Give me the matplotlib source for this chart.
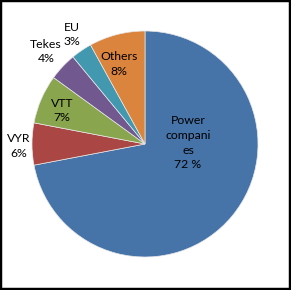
import matplotlib
matplotlib.use('Agg')
import matplotlib.pyplot as plt
from matplotlib.patches import Rectangle

# funding shares (%), clockwise from 12 o'clock
sources = ['Power companies', 'VYR', 'VTT', 'Tekes', 'EU', 'Others']
shares = [72, 6, 7, 4, 3, 8]
label_texts = ['Power\ncompani\nes\n72 %', 'VYR\n6%', 'VTT\n7%',
               'Tekes\n4%', 'EU\n3%', 'Others\n8%']

colors = ['#4674A8', '#AA4643', '#89A54E', '#71588F', '#4198AF', '#DB843D']
# label anchor points in pie data units (radius = 1)
label_pos = [(0.38, 0.01), (-1.115, -0.02), (-0.735, 0.296),
             (-0.876, 0.819), (-0.646, 0.969), (-0.23, 0.708)]

W, H = 291, 290
cx, cy, r = 145, 144, 113

fig = plt.figure(figsize=(W / 100, H / 100), dpi=100)
ax = fig.add_axes([(cx - r) / W, (H - cy - r) / H, 2 * r / W, 2 * r / H])

ax.pie(shares, colors=colors, startangle=90, counterclock=False,
       wedgeprops={'edgecolor': '#e8e8e8', 'linewidth': 0.5})
ax.set_xlim(-1, 1)
ax.set_ylim(-1, 1)
ax.set_aspect('equal')
ax.axis('off')

for txt, (x, y) in zip(label_texts, label_pos):
    ax.text(x, y, txt, ha='center', va='center', fontsize=8.8,
            family='Lato', linespacing=1.4, color='black', clip_on=False)

# black frame around the whole chart
fig.patches.append(Rectangle((0, 0), 1, 1, transform=fig.transFigure,
                             fill=False, edgecolor='black', linewidth=3.2))

fig.savefig('out.png', dpi=100)
